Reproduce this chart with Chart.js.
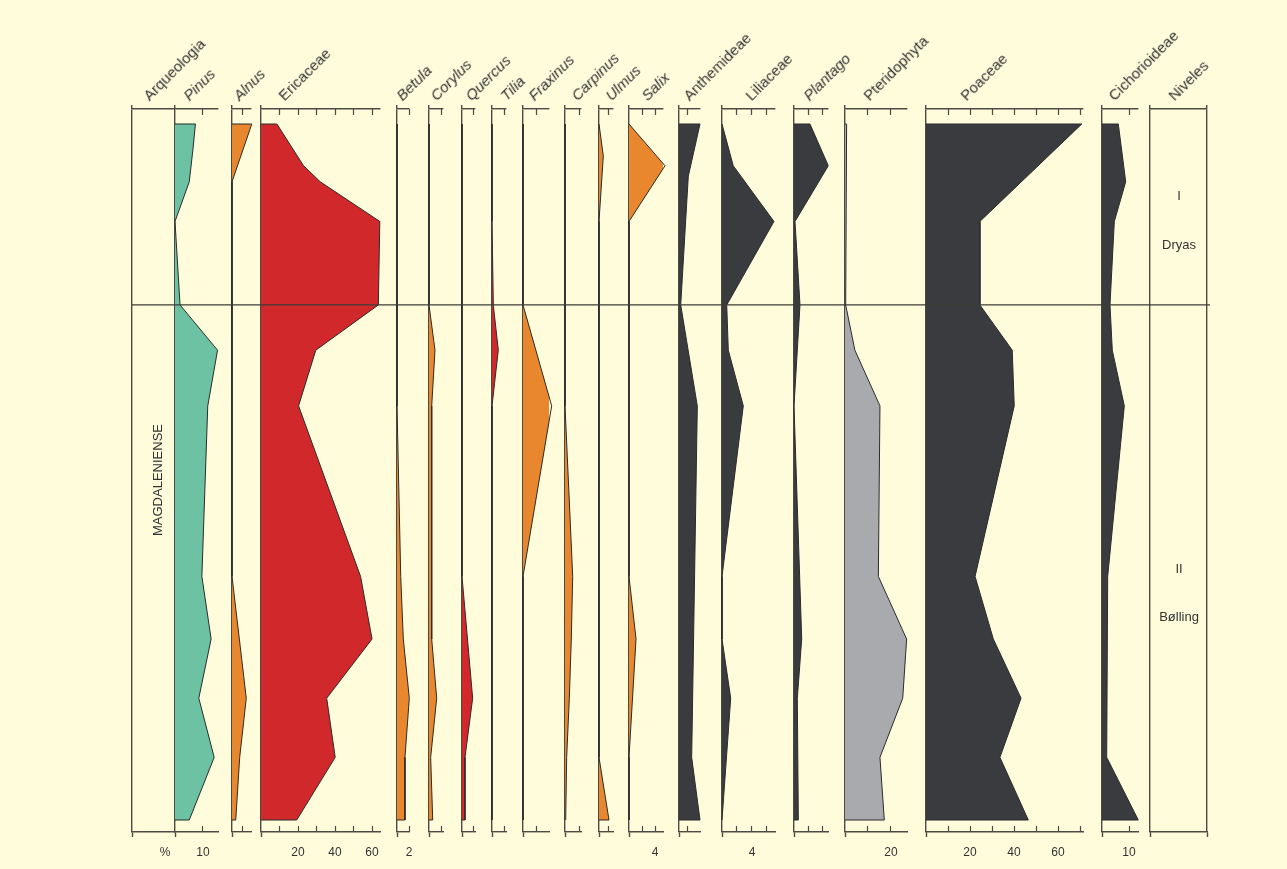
<!DOCTYPE html>
<html>
<head>
<meta charset="utf-8">
<script src="https://cdn.jsdelivr.net/npm/chart.js@4.4.1/dist/chart.umd.min.js"></script>
<style>
html,body{margin:0;padding:0;background:#fffcdc;}
body{width:1287px;height:869px;position:relative;overflow:hidden;font-family:"Liberation Sans",Arial,sans-serif;color:#333;}
canvas{position:absolute;}
.hdr{position:absolute;font-size:15px;line-height:15px;white-space:nowrap;transform-origin:0 100%;transform:rotate(-45deg);color:#333;}
.ctr{position:absolute;white-space:nowrap;transform:translate(-50%,-50%);color:#333;}
</style>
</head>
<body>
<script>
// ---- depth of each sample level (0 = top sample, 100 = bottom sample) ----
const depthLevels   = [0, 3.3, 4.6, 6, 7.5, 8.3, 14, 26, 32.5, 40.5, 65, 74, 82.5, 91, 100];
// ---- percentages per taxon at each level (null = no vertex at that level) ----
const pinus         = [7.3, 6.5, null, null, null, 5.1, 0, 1.8, 15.2, 11.7, 9.6, 12.9, 8.5, 14.0, 5.1];
const alnus         = [9.0, null, null, null, null, 0, 0, 0, 0, 0, 0, null, 6.5, 3.5, 1.7];
const ericaceae     = [8.6, null, null, 23, null, 32, 64.2, 63.4, 29.6, 20.3, 53.8, 60, 35.5, 40.1, 19.3];
const betula        = [0, null, null, null, null, null, 0, 0, 0, 0, 0.62, 1.05, 2.05, 1.33, 1.33];
const corylus       = [0, null, null, null, null, null, 0, 0, 1.0, 0.45, 0.45, 0.45, 1.28, 0.28, 0.62];
const quercus       = [0, null, null, null, null, null, 0, 0, 0, 0, 0, null, 1.78, 0.5, 0.5];
const tilia         = [0, null, null, null, null, null, 0, 0.22, 1.05, 0, 0, 0, 0, 0, 0];
const fraxinus      = [0, null, null, null, null, null, 0, 0, null, 10.25, 0, 0, 0, 0, 0];
const carpinus      = [0, null, null, null, null, null, 0, 0, 0, 0, 2.75, 2.25, 1.54, 0.6, 0.25];
const ulmus         = [0, null, 0.96, null, null, null, 0, 0, 0, 0, 0, 0, 0, 0, 2.22];
const salix         = [0, null, null, 5.54, null, null, 0, 0, 0, 0, 0, 1.08, null, 0, 0];
const anthemideae   = [4.67, null, null, null, 2.07, null, null, 0.38, null, 4.07, null, null, null, 2.82, 4.67];
const liliaceae     = [0, null, null, 1.5, null, null, 6.93, 0.63, 0.84, 2.84, 0, 0, 1.16, null, 0];
const plantago      = [2.22, null, null, 4.76, null, null, 0.14, 0.83, null, 0, null, 1.07, 0.46, null, 0.6];
const pteridophyta  = [0.7, null, null, null, null, null, null, 0.3, 4.3, 15.2, 14.5, 26.8, 25.1, 15.2, 17.1];
const poaceae       = [70.8, null, null, null, null, null, 24.5, 24.5, 39.2, 40.1, 22.3, 30.6, 43.2, 33.6, 46.5];
const cichorioideae = [6.04, null, null, null, null, 8.78, 4.56, 2.96, 3.81, 8.26, 2.11, null, null, 1.74, 13.44];
// ---- zone boundary and zone labels ----
const zoneBoundaries = [26];
const zoneLabels = [
  {text: 'I', y: 195}, {text: 'Dryas', y: 244},
  {text: 'II', y: 568}, {text: 'Bølling', y: 616}
];
const culturalPeriod = 'MAGDALENIENSE';
// ---- tick values / tick labels per panel ----
const pinusTicks = [10], pinusLabels = {10: '10'};
const alnusTicks = [5];
const ericaceaeTicks = [10, 20, 30, 40, 50, 60], ericaceaeLabels = {20: '20', 40: '40', 60: '60'};
const betulaTicks = [2], betulaLabels = {2: '2'};
const smallTicks = [2];
const fiveTicks = [5];
const salixTicks = [2, 4], salixLabels = {4: '4'};
const liliaceaeTicks = [2, 4, 6], liliaceaeLabels = {4: '4'};
const plantagoTicks = [2, 4];
const pteridoTicks = [10, 20], pteridoLabels = {20: '20'};
const poaceaeTicks = [10, 20, 30, 40, 50, 60, 70], poaceaeLabels = {20: '20', 40: '40', 60: '60'};
const cichoTicks = [10], cichoLabels = {10: '10'};

// ---- colours ----
const GREEN = '#6cc2a3', ORANGE = '#e8872d', RED = '#d0282b', DARK = '#3a3b3e', GREY = '#a9aaae';
const LINE = '#4b4b43', OUTLINE = '#2b2b2b', NONE = 'rgba(0,0,0,0)';

// ---- panel layout (positions in px; max = value at right end of each axis) ----
const panels = [
  {name: 'Arqueologia',   it: false, hx: 151,  x0: 132,  x1: 175,  max: 43,    values: null,          ticks: [],              labels: {},              edges: [0]},
  {name: 'Pinus',         it: true,  hx: 191,  x0: 175,  x1: 218,  max: 15.36, values: pinus,         ticks: pinusTicks,      labels: pinusLabels,     edges: [0], color: GREEN},
  {name: 'Alnus',         it: true,  hx: 241,  x0: 232,  x1: 251,  max: 8.64,  values: alnus,         ticks: alnusTicks,      labels: {},              edges: [0], color: ORANGE},
  {name: 'Ericaceae',     it: false, hx: 286,  x0: 261,  x1: 380,  max: 64.3,  values: ericaceae,     ticks: ericaceaeTicks,  labels: ericaceaeLabels, edges: [0], color: RED},
  {name: 'Betula',        it: true,  hx: 404,  x0: 397,  x1: 409,  max: 2,     values: betula,        ticks: betulaTicks,     labels: betulaLabels,    edges: [0], color: ORANGE},
  {name: 'Corylus',       it: true,  hx: 438,  x0: 429,  x1: 443,  max: 2.33,  values: corylus,       ticks: smallTicks,      labels: {},              edges: [0], color: ORANGE},
  {name: 'Quercus',       it: true,  hx: 473,  x0: 462,  x1: 475,  max: 2.17,  values: quercus,       ticks: smallTicks,      labels: {},              edges: [0], color: RED},
  {name: 'Tilia',         it: true,  hx: 508,  x0: 492,  x1: 506,  max: 2.33,  values: tilia,         ticks: smallTicks,      labels: {},              edges: [0], color: RED},
  {name: 'Fraxinus',      it: true,  hx: 536,  x0: 523,  x1: 549,  max: 9.29,  values: fraxinus,      ticks: fiveTicks,       labels: {},              edges: [0], color: ORANGE},
  {name: 'Carpinus',      it: true,  hx: 579,  x0: 565,  x1: 581,  max: 5.71,  values: carpinus,      ticks: fiveTicks,       labels: {},              edges: [0], color: ORANGE},
  {name: 'Ulmus',         it: true,  hx: 613,  x0: 599,  x1: 613,  max: 3.11,  values: ulmus,         ticks: smallTicks,      labels: {},              edges: [0], color: ORANGE},
  {name: 'Salix',         it: true,  hx: 649,  x0: 629,  x1: 663,  max: 5.23,  values: salix,         ticks: salixTicks,      labels: salixLabels,     edges: [0], color: ORANGE},
  {name: 'Anthemideae',   it: false, hx: 691,  x0: 679,  x1: 700,  max: 4.67,  values: anthemideae,   ticks: smallTicks,      labels: {},              edges: [0], color: DARK},
  {name: 'Liliaceae',     it: false, hx: 753,  x0: 722,  x1: 775,  max: 7.07,  values: liliaceae,     ticks: liliaceaeTicks,  labels: liliaceaeLabels, edges: [0], color: DARK},
  {name: 'Plantago',      it: true,  hx: 811,  x0: 794,  x1: 828,  max: 4.72,  values: plantago,      ticks: plantagoTicks,   labels: {},              edges: [0], color: DARK},
  {name: 'Pteridophyta',  it: false, hx: 871,  x0: 845,  x1: 907,  max: 26.96, values: pteridophyta,  ticks: pteridoTicks,    labels: pteridoLabels,   edges: [0], color: GREY},
  {name: 'Poaceae',       it: false, hx: 968,  x0: 926,  x1: 1083, max: 71.36, values: poaceae,       ticks: poaceaeTicks,    labels: poaceaeLabels,   edges: [0], color: DARK},
  {name: 'Cichorioideae', it: false, hx: 1116, x0: 1102, x1: 1138, max: 13.33, values: cichorioideae, ticks: cichoTicks,      labels: cichoLabels,     edges: [0], color: DARK},
  {name: 'Niveles',       it: false, hx: 1176, x0: 1150, x1: 1207, max: 57,    values: null,          ticks: [],              labels: {},              edges: [0, 57]}
];

// ---- vertical frame shared by all panels ----
const PAD = 14, TOP = 95, H = 770, AXT = 14, AXB = 33;
const PLOT_TOP = TOP + AXT, PLOT_BOTTOM = TOP + H - AXB;     // 109 .. 832
const SAMPLE_TOP = 124, SAMPLE_BOTTOM = 820;
const pxPerDepth = (SAMPLE_BOTTOM - SAMPLE_TOP) / 100;
const yMin = -(SAMPLE_TOP - PLOT_TOP) / pxPerDepth;
const yMax = 100 + (PLOT_BOTTOM - SAMPLE_BOTTOM) / pxPerDepth;

Chart.defaults.font.family = '"Liberation Sans", Arial, sans-serif';

function addCanvas(left, top, w, h) {
  const cv = document.createElement('canvas');
  cv.width = w; cv.height = h;
  cv.style.left = left + 'px'; cv.style.top = top + 'px';
  cv.style.width = w + 'px'; cv.style.height = h + 'px';
  document.body.appendChild(cv);
  return cv;
}

function fixAxis(height) {
  return s => { if (height !== null) s.height = height; s.paddingLeft = 0; s.paddingRight = 0; };
}

function makePanel(p) {
  const w = (p.x1 - p.x0) + 2 * PAD;
  const cv = addCanvas(p.x0 - PAD, TOP, w, H);
  const tickVals = [...new Set([...p.edges, ...p.ticks])].sort((a, b) => a - b);
  const setTicks = ax => { ax.ticks = tickVals.map(v => ({value: v})); };
  const isEdge = c => c.tick && p.edges.includes(c.tick.value);
  const datasets = [];
  if (p.values) {
    const pts = [];
    depthLevels.forEach((d, i) => { const v = p.values[i]; if (v !== null) pts.push({x: v, y: d}); });
    const data = [{x: 0, y: pts[0].y}, ...pts, {x: 0, y: pts[pts.length - 1].y}];
    datasets.push({
      label: p.name, data, fill: 'origin', backgroundColor: p.color,
      borderColor: OUTLINE, borderWidth: 1, pointRadius: 0, pointHoverRadius: 0, pointHitRadius: 0,
      tension: 0, clip: false
    });
  }
  new Chart(cv, {
    type: 'line',
    data: {datasets},
    options: {
      responsive: false, animation: false, indexAxis: 'y', events: [],
      layout: {autoPadding: false, padding: {left: PAD, right: PAD, top: 0, bottom: 0}},
      plugins: {legend: {display: false}, tooltip: {enabled: false}},
      scales: {
        y: {type: 'linear', display: false, reverse: true, min: yMin, max: yMax},
        // top frame axis: axis line, panel edge lines (full height, poking out above)
        x: {
          type: 'linear', position: 'top', min: 0, max: p.max,
          afterBuildTicks: setTicks, afterFit: fixAxis(AXT),
          ticks: {display: false},
          grid: {
            display: true, drawOnChartArea: true, drawTicks: true, tickLength: 4,
            lineWidth: 1.4, tickWidth: 1.4,
            tickColor: c => isEdge(c) ? LINE : NONE,
            color: c => isEdge(c) ? LINE : NONE
          },
          border: {display: true, color: LINE, width: 1.4}
        },
        // inward tick marks under the top axis line
        xt: {
          type: 'linear', position: {y: yMin}, min: 0, max: p.max,
          afterBuildTicks: setTicks, afterFit: fixAxis(null),
          ticks: {display: false},
          grid: {display: true, drawOnChartArea: false, drawTicks: true, tickLength: 6, tickWidth: 1.2,
                 tickColor: c => isEdge(c) ? NONE : LINE, color: NONE},
          border: {display: false}
        },
        // bottom frame axis: axis line, labels, edge lines poking out below
        x2: {
          type: 'linear', position: 'bottom', min: 0, max: p.max,
          afterBuildTicks: setTicks, afterFit: fixAxis(AXB),
          ticks: {
            display: true, autoSkip: false, maxRotation: 0, minRotation: 0, padding: 8,
            color: '#333', font: {size: 12},
            callback: v => (p.labels[v] !== undefined ? p.labels[v] : '')
          },
          grid: {display: true, drawOnChartArea: false, drawTicks: true, tickLength: 5, tickWidth: 1.4,
                 tickColor: c => isEdge(c) ? LINE : NONE, color: LINE},
          border: {display: true, color: LINE, width: 1.4}
        },
        // inward tick marks above the bottom axis line
        xb: {
          type: 'linear', position: {y: yMax}, min: 0, max: p.max,
          afterBuildTicks: setTicks, afterFit: fixAxis(null),
          ticks: {display: false},
          grid: {display: true, drawOnChartArea: false, drawTicks: true, tickLength: -6, tickWidth: 1.2,
                 tickColor: c => isEdge(c) ? NONE : LINE, color: NONE},
          border: {display: false}
        }
      }
    }
  });
  // header
  const h = document.createElement('div');
  h.className = 'hdr';
  h.textContent = p.name;
  h.style.left = p.hx + 'px';
  h.style.top = '88px';
  if (p.it) h.style.fontStyle = 'italic';
  document.body.appendChild(h);
}

panels.forEach(makePanel);

// ---- zone boundary line across all panels ----
(function () {
  const left = 132, right = 1210;
  const cv = addCanvas(left, TOP, right - left, H);
  new Chart(cv, {
    type: 'line',
    data: {datasets: zoneBoundaries.map(d => ({
      data: [{x: 0, y: d}, {x: 1, y: d}], borderColor: '#3c3c36', borderWidth: 1.3,
      pointRadius: 0, pointHoverRadius: 0, fill: false, clip: false
    }))},
    options: {
      responsive: false, animation: false, events: [],
      layout: {autoPadding: false, padding: {left: 0, right: 0, top: AXT, bottom: AXB}},
      plugins: {legend: {display: false}, tooltip: {enabled: false}},
      scales: {
        x: {type: 'linear', display: false, min: 0, max: 1},
        y: {type: 'linear', display: false, reverse: true, min: yMin, max: yMax}
      }
    }
  });
})();

// ---- texts ----
function addText(txt, x, y, size, rot) {
  const d = document.createElement('div');
  d.className = 'ctr';
  d.textContent = txt;
  d.style.left = x + 'px'; d.style.top = y + 'px';
  d.style.fontSize = size + 'px';
  if (rot) d.style.transform = 'translate(-50%,-50%) rotate(' + rot + 'deg)';
  document.body.appendChild(d);
}
zoneLabels.forEach(z => addText(z.text, 1179, z.y, 13));
addText(culturalPeriod, 157, 480, 13, -90);
addText('%', 165, 852, 12);
</script>
</body>
</html>
